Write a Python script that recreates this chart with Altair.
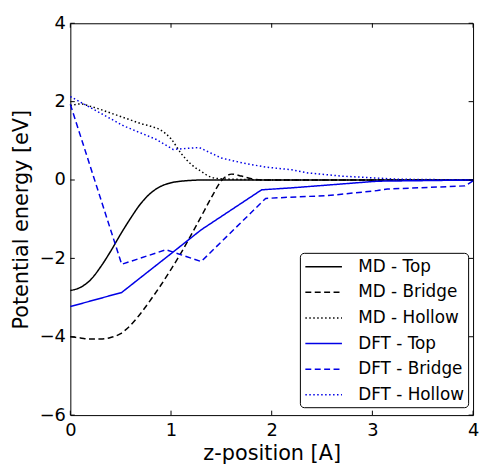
import altair as alt
import pandas as pd

# ---------------- data ----------------
series_names = ["MD - Top", "MD - Bridge", "MD - Hollow",
                "DFT - Top", "DFT - Bridge", "DFT - Hollow"]
series_colors = ["#000000", "#000000", "#000000", "#0000e6", "#0000e6", "#0000e6"]
series_dashes = [[1, 0], [6, 3.5], [1.5, 2.5], [1, 0], [6, 3.5], [1.5, 2.5]]

md_z = [0.0, 0.1, 0.2, 0.3, 0.4, 0.5, 0.6, 0.7, 0.8, 0.9, 1.0, 1.1, 1.2, 1.3,
        1.4, 1.5, 1.55, 1.6, 1.7, 1.8, 1.9, 2.0, 2.5, 3.0, 3.5, 4.0]
md_top = [-2.82, -2.74, -2.55, -2.22, -1.82, -1.38, -0.97, -0.60, -0.33, -0.16,
          -0.07, -0.03, -0.01, 0, 0, 0, 0, 0, 0, 0, 0, 0, 0, 0, 0, 0]
md_bridge = [-4.00, -4.03, -4.06, -4.06, -4.02, -3.92, -3.70, -3.40, -3.05, -2.68,
             -2.28, -1.86, -1.40, -0.93, -0.45, -0.02, 0.10, 0.15, 0.10, 0.03,
             0.0, 0, 0, 0, 0, 0]
md_hollow = [1.90, 1.94, 1.88, 1.80, 1.71, 1.62, 1.53, 1.44, 1.37, 1.27,
             1.05, 0.68, 0.40, 0.22, 0.07, 0.03, 0.025, 0.02, 0.015, 0.01,
             0.005, 0, 0, 0, 0, 0]

dft_top_z = [0.0, 0.51, 1.0, 1.3, 1.9, 2.2, 3.05, 4.0]
dft_top = [-3.23, -2.87, -1.88, -1.27, -0.25, -0.20, -0.03, 0.0]
dft_bridge_z = [0.0, 0.51, 0.95, 1.3, 1.94, 2.25, 2.55, 3.05, 3.15, 3.92, 4.0]
dft_bridge = [1.93, -2.15, -1.78, -2.08, -0.47, -0.43, -0.40, -0.27, -0.23, -0.15, -0.02]
dft_hollow_z = [0.0, 0.53, 0.85, 1.02, 1.28, 1.5, 1.72, 1.94, 2.2, 2.36, 2.69, 3.25, 4.0]
dft_hollow = [2.13, 1.38, 1.04, 0.78, 0.83, 0.56, 0.43, 0.33, 0.26, 0.18, 0.10, 0.02, 0.0]

x_ticks = [0, 1, 2, 3, 4]
y_ticks = [-6, -4, -2, 0, 2, 4]

# ---------------- tables ----------------
md_rows = []
for name, vals in zip(series_names[:3], [md_top, md_bridge, md_hollow]):
    for z, e in zip(md_z, vals):
        md_rows.append({"z": z, "E": e, "series": name})
md_df = pd.DataFrame(md_rows)

dft_rows = []
for name, zs, vals in zip(series_names[3:],
                          [dft_top_z, dft_bridge_z, dft_hollow_z],
                          [dft_top, dft_bridge, dft_hollow]):
    for z, e in zip(zs, vals):
        dft_rows.append({"z": z, "E": e, "series": name})
dft_df = pd.DataFrame(dft_rows)

FONT = "DejaVu Sans"
W, H = 407, 396

xscale = alt.Scale(domain=[0, 4], nice=False, zero=False)
yscale = alt.Scale(domain=[-6, 4], nice=False, zero=False)

x_axis = alt.Axis(values=x_ticks, title="z-position [A]", grid=False, domain=False,
                  tickSize=0, labelPadding=7, labelFlush=False, labelFontSize=18,
                  labelFont=FONT, labelColor="black", titleFont=FONT, titleFontSize=21,
                  titleFontWeight="normal", titleColor="black",
                  titleX=W / 2, titleY=45, titleBaseline="alphabetic", titleAlign="center")
y_axis = alt.Axis(values=y_ticks, title="Potential energy [eV]", grid=False, domain=False,
                  tickSize=0, labelPadding=5, labelFlush=False, labelFontSize=18,
                  labelFont=FONT, labelColor="black", titleFont=FONT, titleFontSize=21,
                  titleFontWeight="normal", titleColor="black",
                  titleX=-43, titleY=H / 2, titleAngle=270,
                  titleBaseline="alphabetic", titleAlign="center")

legend = alt.Legend(orient="none", legendX=232, legendY=232, padding=4,
                    strokeColor="black", fillColor="white", cornerRadius=4,
                    symbolType="M-2,0L2,0", symbolSize=342, symbolStrokeWidth=1.5,
                    symbolOffset=10, labelOffset=25, labelFont=FONT, labelFontSize=17,
                    labelColor="black", rowPadding=7.9, title=None)

color = alt.Color("series:N", scale=alt.Scale(domain=series_names, range=series_colors),
                  legend=legend, sort=series_names)
dash = alt.StrokeDash("series:N", scale=alt.Scale(domain=series_names, range=series_dashes),
                      legend=legend, sort=series_names)

X = alt.X("z:Q", scale=xscale, axis=x_axis)
Y = alt.Y("E:Q", scale=yscale, axis=y_axis)

md_layer = alt.Chart(md_df).mark_line(strokeWidth=1.5, interpolate="monotone").encode(
    x=X, y=Y, color=color, strokeDash=dash)
dft_layer = alt.Chart(dft_df).mark_line(strokeWidth=1.5).encode(
    x=X, y=Y, color=color, strokeDash=dash)

xt = pd.DataFrame({"z": x_ticks})
yt = pd.DataFrame({"E": y_ticks})
tick_top = alt.Chart(xt).mark_rule(color="black", strokeWidth=1).encode(
    x=X, y=alt.value(0), y2=alt.value(4.5))
tick_bottom = alt.Chart(xt).mark_rule(color="black", strokeWidth=1).encode(
    x=X, y=alt.value(H), y2=alt.value(H - 4.5))
tick_left = alt.Chart(yt).mark_rule(color="black", strokeWidth=1).encode(
    y=Y, x=alt.value(0), x2=alt.value(4.5))
tick_right = alt.Chart(yt).mark_rule(color="black", strokeWidth=1).encode(
    y=Y, x=alt.value(W), x2=alt.value(W - 4.5))

chart = alt.layer(md_layer, dft_layer, tick_top, tick_bottom, tick_left, tick_right).properties(
    width=W, height=H,
    padding={"left": 63, "top": 13, "right": 6, "bottom": 50},
    autosize=alt.AutoSizeParams(type="none"),
    background="white",
).configure_view(stroke="black", strokeWidth=1)

chart.save("out.html", embed_options={"renderer": "svg", "actions": False})
